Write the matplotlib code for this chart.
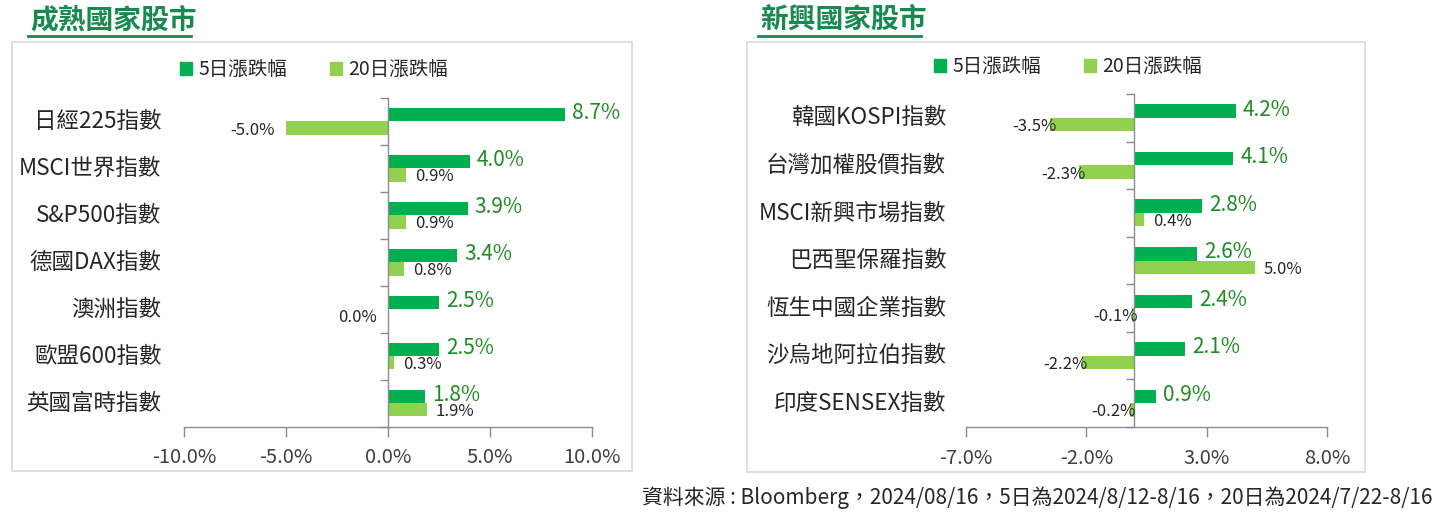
import matplotlib
matplotlib.use("Agg")
import matplotlib.pyplot as plt
import matplotlib.transforms as mtransforms
from matplotlib.patches import Rectangle, Patch
from matplotlib.lines import Line2D
from matplotlib.ticker import FuncFormatter, FixedLocator
import numpy as np

plt.rcParams['font.family'] = ['Noto Sans CJK TC', 'DejaVu Sans']

# data
dev_names = ['日經225指數', 'MSCI世界指數', 'S&P500指數', '德國DAX指數',
             '澳洲指數', '歐盟600指數', '英國富時指數']
dev_5d = [8.7, 4.0, 3.9, 3.4, 2.5, 2.5, 1.8]
dev_20d = [-5.0, 0.9, 0.9, 0.8, 0.0, 0.3, 1.9]
dev_ticks = [-10, -5, 0, 5, 10]

emg_names = ['韓國KOSPI指數', '台灣加權股價指數', 'MSCI新興市場指數', '巴西聖保羅指數',
             '恆生中國企業指數', '沙烏地阿拉伯指數', '印度SENSEX指數']
emg_5d = [4.2, 4.1, 2.8, 2.6, 2.4, 2.1, 0.9]
emg_20d = [-3.5, -2.3, 0.4, 5.0, -0.1, -2.2, -0.2]
emg_ticks = [-7, -2, 3, 8]

legend_labels = ['5日漲跌幅', '20日漲跌幅']
note = '資料來源 : Bloomberg，2024/08/16，5日為2024/8/12-8/16，20日為2024/7/22-8/16'

C5 = '#00B050'
C20 = '#92D050'
LABEL_GREEN = '#1E8C22'
TITLE_GREEN = '#188A50'
AXIS_GRAY = '#8C8C8C'
TEXT = '#262626'

W, H = 1443, 515
fig = plt.figure(figsize=(W / 100, H / 100), dpi=100)


def fx(px):
    return px / W


def fy(py):
    return 1 - py / H


def draw_panel(rect, names, v5, v20, ticks, neg_off):
    ax = fig.add_axes(rect)
    n = len(names)
    y = np.arange(n)
    h = 0.285
    ax.barh(y - h / 2, v5, height=h, color=C5, zorder=2)
    ax.barh(y + h / 2, v20, height=h, color=C20, zorder=2)
    ax.set_xlim(ticks[0], ticks[-1])
    ax.set_ylim(n - 0.5, -0.5)

    for s in ['top', 'right']:
        ax.spines[s].set_visible(False)
    ax.spines['left'].set_position(('data', 0))
    for s in ['left', 'bottom']:
        ax.spines[s].set_color(AXIS_GRAY)
        ax.spines[s].set_linewidth(1.0)

    ax.set_xticks(ticks)
    ax.xaxis.set_major_formatter(FuncFormatter(lambda v, p: f'{v:.1f}%'))
    ax.tick_params(axis='x', direction='out', length=7, width=1,
                   color=AXIS_GRAY, labelsize=14.5, labelcolor='#404040', pad=8)
    ax.set_yticks([])
    ax.yaxis.set_minor_locator(FixedLocator(np.arange(-0.5, n, 1.0)))
    ax.tick_params(axis='y', which='minor', direction='out', length=6,
                   width=1, color=AXIS_GRAY)

    trans = mtransforms.blended_transform_factory(ax.transAxes, ax.transData)
    for i, name in enumerate(names):
        ax.text(-0.055, i, name, transform=trans, ha='right', va='center',
                fontsize=16.2, color=TEXT)

    for i, v in enumerate(v5):
        ax.annotate(f'{v:.1f}%', xy=(v, i - h / 2 - 0.03), xytext=(7, 0),
                    textcoords='offset pixels', ha='left', va='center',
                    fontsize=15, color=LABEL_GREEN)
    for i, v in enumerate(v20):
        if v > 0:
            off, ha = 9, 'left'
        else:
            off, ha = neg_off, 'right'
        ax.annotate(f'{v:.1f}%', xy=(v, i + h / 2 + 0.04), xytext=(off, 0),
                    textcoords='offset pixels', ha=ha, va='center',
                    fontsize=12, color=TEXT)
    return ax


ax1 = draw_panel([fx(184), fy(426.5), fx(592) - fx(184), fy(98) - fy(426.5)],
                 dev_names, dev_5d, dev_20d, dev_ticks, -11)
ax2 = draw_panel([fx(966), fy(427), fx(1327) - fx(966), fy(94) - fy(427)],
                 emg_names, emg_5d, emg_20d, emg_ticks, 6)

# frames around each chart
fig.add_artist(Rectangle((fx(12), fy(471)), fx(632) - fx(12), fy(42) - fy(471),
                         transform=fig.transFigure, fill=False,
                         ec='#D9D9D9', lw=1.2))
fig.add_artist(Rectangle((fx(747), fy(472)), fx(1365) - fx(747), fy(42) - fy(472),
                         transform=fig.transFigure, fill=False,
                         ec='#D9D9D9', lw=1.2))

# titles with underline
for x0, x1, title in [(30, 191, '成熟國家股市'), (760, 921, '新興國家股市')]:
    fig.text(fx(x0), fy(20), title, fontsize=20, fontweight='bold',
             color=TITLE_GREEN, va='center', ha='left')
    fig.add_artist(Line2D([fx(x0 - 2), fx(x1)], [fy(36), fy(36)],
                          transform=fig.transFigure, color=TITLE_GREEN, lw=2))

# legends
handles = [Patch(color=C5), Patch(color=C20)]
for cx, cy in [(314, 70), (1068, 67)]:
    fig.legend(handles, legend_labels, loc='center', bbox_to_anchor=(fx(cx), fy(cy)),
               ncol=2, frameon=False, fontsize=14, handlelength=0.6,
               handleheight=0.6, handletextpad=0.35, columnspacing=2.2,
               labelcolor=TEXT)

fig.text(fx(1432), fy(498), note, ha='right', va='center', fontsize=15, color=TEXT)

fig.savefig('out.png', dpi=100)
